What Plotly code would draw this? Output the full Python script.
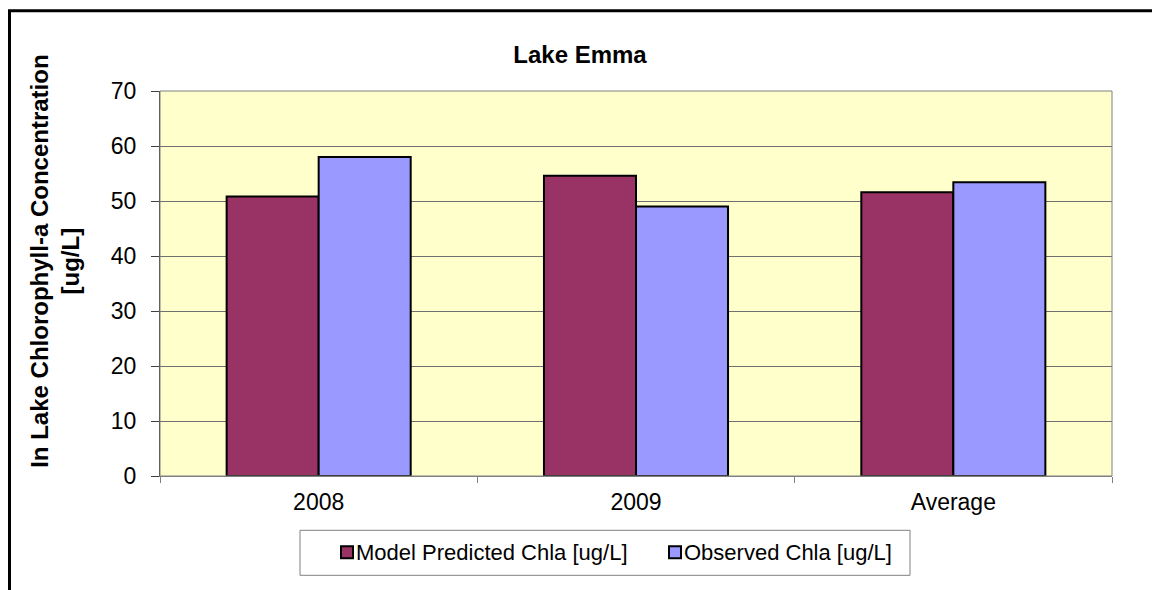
import plotly.graph_objects as go

categories = ["2008", "2009", "Average"]
model_predicted = [50.8, 54.6, 51.6]
observed = [58.0, 49.0, 53.4]
series_names = ["Model Predicted Chla [ug/L]", "Observed Chla [ug/L]"]
series_colors = ["#993366", "#9999FF"]
y_ticks = [0, 10, 20, 30, 40, 50, 60, 70]

FONT = "Liberation Sans, Arial, sans-serif"

# figure-pixel geometry (page is offset 8px by the browser body margin)
L, T, PW, PH = 152, 82.7, 952, 385
W, H = 1160, 590


def px(x):
    return (x - L) / PW


def py(y):
    return (T + PH - y) / PH


fig = go.Figure()
for name, vals, col in zip(series_names, [model_predicted, observed], series_colors):
    fig.add_trace(go.Bar(x=categories, y=vals, name=name,
                         marker=dict(color=col, line=dict(color="black", width=2))))

fig.update_layout(
    width=W, height=H,
    margin=dict(l=L, r=W - L - PW, t=T, b=H - T - PH),
    paper_bgcolor="white", plot_bgcolor="#FFFFCC",
    barmode="group", bargap=0.42, bargroupgap=0,
    font=dict(family=FONT, size=23, color="black"),
    title=dict(text="<b>Lake Emma</b>", x=572 / W, xref="container", xanchor="center",
               y=1 - 47 / H, yref="container", yanchor="middle",
               font=dict(size=24, family=FONT)),
    showlegend=False,
    xaxis=dict(type="category", showline=True, linecolor="#808080", linewidth=1,
               ticks="outside", tickson="boundaries", ticklen=6, tickcolor="#808080",
               showgrid=False, tickfont=dict(size=23), ticklabelstandoff=5),
    yaxis=dict(range=[0, 70], tickvals=y_ticks, showline=True, linecolor="#404040",
               linewidth=1, ticks="outside", ticklen=8, tickcolor="#404040",
               showgrid=True, gridcolor="#707070", gridwidth=1,
               zeroline=False, tickfont=dict(size=23), ticklabelstandoff=10),
)

# y-axis title
fig.add_annotation(text="<b>In Lake Chlorophyll-a Concentration<br>[ug/L]</b>",
                   xref="paper", yref="paper", x=px(47), y=py(253.5), textangle=-90,
                   showarrow=False, font=dict(size=24, family=FONT),
                   xanchor="center", yanchor="middle")

# plot-area border
fig.add_shape(type="rect", xref="paper", yref="paper", x0=0, y0=0, x1=1, y1=1,
              line=dict(color="#808080", width=1), layer="above")
# outer chart frame (partly cut off at right/bottom)
fig.add_shape(type="rect", xref="paper", yref="paper",
              x0=px(1.5), y0=py(700), x1=px(1300), y1=py(2.5),
              line=dict(color="black", width=3))

# legend box
fig.add_shape(type="rect", xref="paper", yref="paper",
              x0=px(292), y0=py(567), x1=px(902), y1=py(522),
              line=dict(color="#808080", width=1), fillcolor="white")
legend_pos = [(333, 346), (661, 674)]
for (sx, tx), name, col in zip(legend_pos, series_names, series_colors):
    fig.add_shape(type="rect", xref="paper", yref="paper",
                  x0=px(sx), y0=py(550), x1=px(sx + 12), y1=py(538),
                  line=dict(color="black", width=2), fillcolor=col)
    fig.add_annotation(text=name, xref="paper", yref="paper", x=px(tx), y=py(544),
                       xanchor="left", yanchor="middle", showarrow=False,
                       font=dict(size=22, family=FONT))

fig.write_html("out.html")
